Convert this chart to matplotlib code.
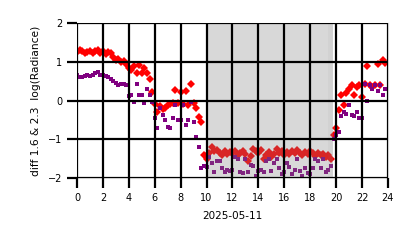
import numpy as np
import matplotlib
matplotlib.use("Agg")
import matplotlib.pyplot as plt

# sample times (hours, 12 min step) and the two log radiance differences
hours = np.arange(0, 24, 0.2)

diff_16 = [
    1.25, 1.30, 1.27, 1.22, 1.25,
    1.28, 1.22, 1.27, 1.30, 1.24,
    1.28, 1.20, 1.25, 1.22, 1.12,
    1.05, 1.08, 1.00, 1.02, 0.95,
    0.85, 0.78, 0.90, 0.72, 0.92,
    0.70, 0.85, 0.72, 0.55, 0.22,
    -0.10, -0.29, -0.15, -0.22, -0.20,
    -0.12, -0.08, -0.05, 0.27, -0.07,
    0.22, -0.10, 0.25, -0.12, 0.43,
    -0.05, -0.20, -0.43, -0.55, -1.40,
    -1.50, -1.35, -1.20, -1.30, -1.28,
    -1.35, -1.40, -1.30, -1.38, -1.33,
    -1.36, -1.30, -1.40, -1.35, -1.30,
    -1.38, -1.55, -1.42, -1.25, -1.30,
    -1.35, -1.28, -1.50, -1.40, -1.32,
    -1.45, -1.38, -1.25, -1.35, -1.30,
    -1.40, -1.33, -1.38, -1.30, -1.36,
    -1.28, -1.35, -1.40, -1.32, -1.38,
    -1.30, -1.36, -1.42, -1.35, -1.40,
    -1.38, -1.45, -1.40, -1.50, -0.89,
    -0.71, -0.25, 0.14, -0.12, 0.19,
    0.30, 0.40, 0.14, 0.35, 0.40,
    0.10, 0.44, 0.89, 0.40, 0.35,
    0.40, 0.94, 0.40, 1.04, 0.97,
]

diff_23 = [
    0.65, 0.62, 0.60, 0.63, 0.65,
    0.64, 0.66, 0.70, 0.74, 0.66,
    0.65, 0.64, 0.62, 0.55, 0.50,
    0.45, 0.40, 0.42, 0.44, 0.40,
    0.12, 0.15, -0.03, 0.44, 0.14,
    0.14, -0.06, 0.31, 0.14, -0.03,
    -0.45, -0.71, -0.19, -0.37, -0.50,
    -0.68, -0.71, -0.45, -0.12, -0.50,
    -0.50, -0.12, -0.63, -0.50, -0.03,
    -0.55, -0.94, -1.20, -1.74, -1.70,
    -1.72, -1.45, -1.60, -1.85, -1.55,
    -1.55, -1.75, -1.85, -1.80, -1.82,
    -1.78, -1.45, -1.50, -1.85, -1.88,
    -1.50, -1.85, -1.65, -1.70, -1.95,
    -1.82, -1.80, -1.85, -1.55, -1.50,
    -1.82, -1.60, -1.52, -1.75, -1.90,
    -1.85, -1.60, -1.72, -1.90, -1.80,
    -1.50, -1.82, -1.95, -1.75, -1.88,
    -1.90, -1.75, -1.50, -1.55, -1.75,
    -1.52, -1.85, -1.80, -1.70, -1.00,
    -0.90, -0.80, -0.40, -0.30, -0.35,
    -0.12, -0.38, -0.40, -0.30, -0.45,
    -0.45, 0.44, 0.00, 0.40, 0.30,
    0.40, 0.25, 0.40, 0.14, 0.30,
]

night_start, night_end = 9.95, 19.78
dusk_start = 19.37

x_ticks = list(range(0, 25, 2))
y_ticks = [-2, -1, 0, 1, 2]

fig = plt.figure(figsize=(4.14, 2.48), dpi=100)
ax = fig.add_axes([0.186, 0.282, 0.751, 0.625])

ax.plot(hours, diff_16, ls="none", marker="D", ms=4.2, color="#ff0000", mew=0, zorder=2)
ax.plot(hours, diff_23, ls="none", marker="s", ms=3.0, color="#800080", mew=0, zorder=2)

ax.axvspan(night_start, night_end, color="#808080", alpha=0.3, lw=0, zorder=2.2)
ax.axvspan(dusk_start, night_end, color="#808080", alpha=0.06, lw=0, zorder=2.2)

ax.set_xlim(0, 24)
ax.set_ylim(-2, 2)
ax.set_xticks(x_ticks)
ax.set_yticks(y_ticks)
ax.set_axisbelow(False)
ax.grid(True, color="black", lw=1.6)
ax.tick_params(length=7, width=1.6, color="black", labelsize=7, pad=3.5)
for s in ax.spines.values():
    s.set_color("#cccccc")
    s.set_linewidth(0.8)

ax.set_xlabel("2025-05-11", fontsize=7.5, labelpad=6)
ax.set_ylabel("diff 1.6 & 2.3  log(Radiance)", fontsize=7.7, labelpad=5)

fig.savefig("out.png", dpi=100)
